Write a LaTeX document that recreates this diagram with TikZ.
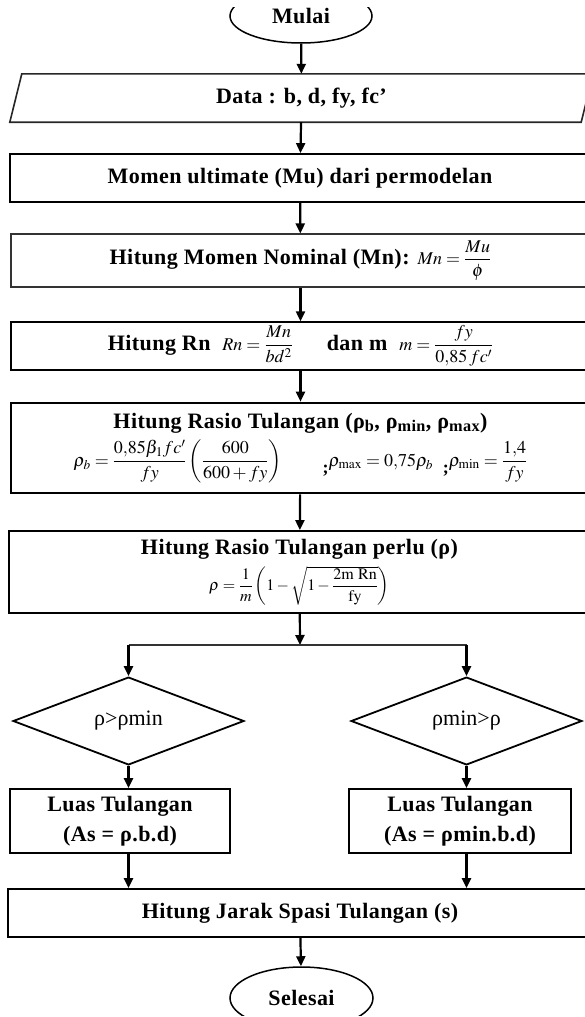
\documentclass[tikz,border=0pt]{standalone}
\usepackage{amsmath}
\usepackage{mathptmx}
\usepackage[no-math]{fontspec}
\setmainfont{Liberation Serif}
\usetikzlibrary{shapes.geometric,arrows.meta}

\newcommand{\judul}{\fontsize{22}{30}\selectfont\bfseries\addfontfeatures{LetterSpace=2}}
\newcommand{\rumus}{\fontsize{18}{21}\selectfont\mdseries}
\newcommand{\rumuskecil}{\fontsize{16}{19}\selectfont\mdseries}

\begin{document}
\begin{tikzpicture}[x=1pt, y=-1pt, >={Triangle[length=10pt,width=9pt]},
    kotak/.style 2 args={draw, rectangle, line width=1.8pt, minimum width=#1, minimum height=#2, inner sep=0pt, align=center, font=\judul},
    tipis/.style={line width=1.1pt, draw=black!80},
    tebal/.style={line width=2.6pt},
    ujung/.style={draw, ellipse, line width=1.5pt, minimum width=142, minimum height=58, inner sep=0pt, font=\judul},
    pilih/.style={draw, diamond, line width=1.8pt, minimum width=231, minimum height=84, inner sep=0pt, font=\fontsize{22}{26}\selectfont},
    panah/.style={->, line width=2.2pt}]
    \useasboundingbox (0, 0) rectangle (585, 1017);
    \clip (0, 7) rectangle (585, 1015);

    \node[ujung, minimum height=54] (mulai) at (301, 16) {Mulai};
    \node[rectangle, minimum width=571, minimum height=48, inner sep=0pt, font=\judul] (data) at (301.5, 98) {Data : b, d, fy, fc’};
    \draw[line width=1.6pt, draw=black!85] ([xshift=6]data.north west) -- ([xshift=6]data.north east)
      -- ([xshift=-6]data.south east) -- ([xshift=-6]data.south west) -- cycle;
    \node[kotak={580}{48}] (momen) at (300, 178) {Momen ultimate (Mu) dari permodelan};
    \node[kotak={579}{53}, tipis] (mn) at (300.5, 260.5)
      {Hitung Momen Nominal (Mn): {\rumus$Mn=\dfrac{Mu}{\phi}$}};
    \node[kotak={579}{48}, line width=1.4pt] (rn) at (300.5, 346)
      {Hitung Rn \ {\rumus$Rn=\dfrac{Mn}{bd^2}$} \quad\ dan m \ {\rumus$m=\dfrac{fy}{0{,}85\,fc'}$}};
    \node[kotak={579}{90}, tebal] (rasio) at (300.5, 448)
      {Hitung Rasio Tulangan (ρ\textsubscript{b}, ρ\textsubscript{min}, ρ\textsubscript{max})\\[6pt]
      {\rumus$\rho_b=\dfrac{0{,}85\beta_1 fc'}{fy}\left(\dfrac{600}{600+fy}\right)$ \qquad\raisebox{-7pt}{\bfseries ;}$\rho_{\max}=0{,}75\rho_b$ \ \raisebox{-7pt}{\bfseries ;}$\rho_{\min}=\dfrac{1{,}4}{fy}$}};
    \node[kotak={581}{82}] (perlu) at (299.5, 572)
      {Hitung Rasio Tulangan perlu (ρ)\\[6pt]
      {\rumuskecil$\rho=\dfrac{1}{m}\left(1-\sqrt{1-\dfrac{2\mathrm{m\ Rn}}{\mathrm{fy}}}\right)$}};
    \coordinate (cabang) at (300, 645);
    \node[pilih] (kiri) at (128.5, 721) {ρ>ρmin};
    \node[pilih] (kanan) at (466.5, 721) {ρmin>ρ};
    \node[kotak={220}{64}] (luaskiri) at (120, 821) {Luas Tulangan\\(As = ρ.b.d)};
    \node[kotak={222}{64}] (luaskanan) at (460, 821) {Luas Tulangan\\(As = ρmin.b.d)};
    \node[kotak={584}{48}] (jarak) at (300, 913) {Hitung Jarak Spasi Tulangan (s)};
    \node[ujung, minimum width=143, minimum height=62] (selesai) at (301.5, 998) {Selesai};

    \draw[panah] (mulai) -- (data);
    \draw[panah] (data) -- (momen);
    \draw[panah] (momen) -- (mn);
    \draw[panah] (mn) -- (rn);
    \draw[panah] (rn) -- (rasio);
    \draw[panah] (rasio) -- (perlu);
    \draw[panah] (perlu) -- (cabang);
    \draw[line width=1.4pt, draw=black!80] (kiri.north |- cabang) -- (kanan.north |- cabang);
    \draw[panah] (kiri.north |- cabang) -- (kiri.north);
    \draw[panah] (kanan.north |- cabang) -- (kanan.north);
    \draw[panah] (kiri.south) -- (kiri.south |- luaskiri.north);
    \draw[panah] (kanan.south) -- (kanan.south |- luaskanan.north);
    \draw[panah] (kiri.south |- luaskiri.south) -- (kiri.south |- jarak.north);
    \draw[panah] (kanan.south |- luaskanan.south) -- (kanan.south |- jarak.north);
    \draw[panah] (jarak) -- (selesai);
  \end{tikzpicture}
\end{document}
